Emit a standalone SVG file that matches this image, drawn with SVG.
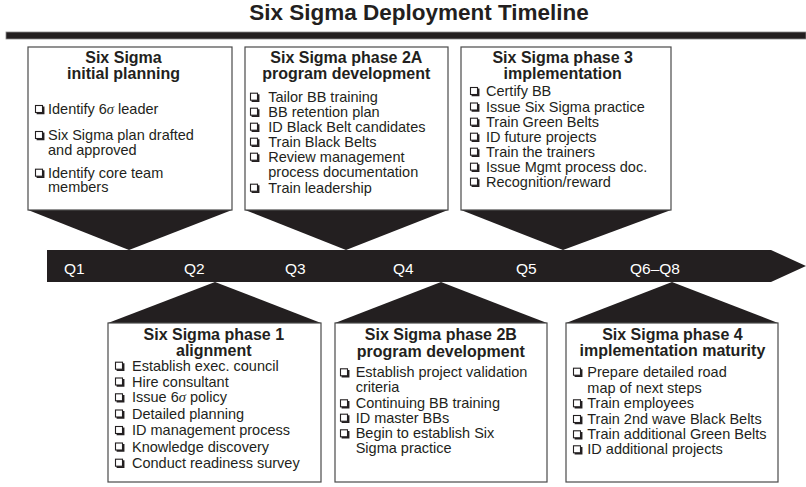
<svg xmlns="http://www.w3.org/2000/svg" xmlns:xlink="http://www.w3.org/1999/xlink" width="806" height="487" viewBox="0 0 806 487">
<style>
.bg{fill:#ffffff}
.box{fill:#ffffff;stroke:#4a4a4a;stroke-width:1.2}
.dark{fill:#231f20}
.hd{font-family:"Liberation Sans",Arial,sans-serif;font-weight:bold;font-size:16px;fill:#231f20;text-anchor:middle}
.it{font-family:"Liberation Sans",Arial,sans-serif;font-size:14.5px;fill:#231f20}
.q{font-family:"Liberation Sans",Arial,sans-serif;font-size:15.5px;fill:#ffffff}
.title{font-family:"Liberation Sans",Arial,sans-serif;font-weight:bold;font-size:22.5px;fill:#231f20;text-anchor:middle}
.sg{font-family:"Liberation Serif","Times New Roman",serif;font-style:italic}
</style>
<defs>
<g id="cb">
<rect x="0.5" y="-8.5" width="7" height="7" fill="#ffffff" stroke="#231f20" stroke-width="1.1"/>
<path d="M1.6 -0.6 H8.6 V-7.4" fill="none" stroke="#231f20" stroke-width="1.7"/>
</g>
</defs>
<rect class="bg" x="0" y="0" width="806" height="487"/>
<text class="title" x="419" y="20">Six Sigma Deployment Timeline</text>
<rect class="dark" x="6" y="32" width="800" height="7" stroke="#8a8a8a" stroke-width="0.8"/>

<g id="timeline">
<path class="dark" d="M47 250 H771 L806 266 L771 282 H47 Z"/>
<text class="q" x="64" y="274">Q1</text>
<text class="q" x="184" y="274">Q2</text>
<text class="q" x="285" y="274">Q3</text>
<text class="q" x="393" y="274">Q4</text>
<text class="q" x="516" y="274">Q5</text>
<text class="q" x="630" y="274">Q6–Q8</text>
</g>

<g id="connectors">
<path class="dark" d="M28 210 H232 L129 250 Z"/>
<path class="dark" d="M245 210 H448 L346 250 Z"/>
<path class="dark" d="M461 210 H671 L563 250 Z"/>
<path class="dark" d="M108 323 H321 L215 282 Z"/>
<path class="dark" d="M335 323 H547 L441 282 Z"/>
<path class="dark" d="M566 323 H778 L672 282 Z"/>
</g>

<g id="initial-planning">
<rect class="box" x="28" y="47" width="204" height="163"/>
<text class="hd" x="123.5" y="62.7">Six Sigma</text>
<text class="hd" x="123.5" y="79.3">initial planning</text>
<use xlink:href="#cb" x="35" y="114"/>
<text class="it" x="48" y="114">Identify 6<tspan class="sg">σ</tspan> leader</text>
<use xlink:href="#cb" x="35" y="140"/>
<text class="it" x="48" y="140">Six Sigma plan drafted</text>
<text class="it" x="48" y="154.5">and approved</text>
<use xlink:href="#cb" x="35" y="177.7"/>
<text class="it" x="48" y="177.7">Identify core team</text>
<text class="it" x="48" y="192.3">members</text>
</g>

<g id="phase-2a">
<rect class="box" x="245" y="47" width="203" height="163"/>
<text class="hd" x="346.3" y="63.3">Six Sigma phase 2A</text>
<text class="hd" x="346.3" y="79.3">program development</text>
<use xlink:href="#cb" x="250" y="101.7"/>
<text class="it" x="268.3" y="101.7">Tailor BB training</text>
<use xlink:href="#cb" x="250" y="116.7"/>
<text class="it" x="268.3" y="116.7">BB retention plan</text>
<use xlink:href="#cb" x="250" y="131.7"/>
<text class="it" x="268.3" y="131.7">ID Black Belt candidates</text>
<use xlink:href="#cb" x="250" y="146.7"/>
<text class="it" x="268.3" y="146.7">Train Black Belts</text>
<use xlink:href="#cb" x="250" y="161.7"/>
<text class="it" x="268.3" y="161.7">Review management</text>
<text class="it" x="268.3" y="177.2">process documentation</text>
<use xlink:href="#cb" x="250" y="192.7"/>
<text class="it" x="268.3" y="192.7">Train leadership</text>
</g>

<g id="phase-3">
<rect class="box" x="461" y="47" width="210" height="163"/>
<text class="hd" x="562.7" y="62.7">Six Sigma phase 3</text>
<text class="hd" x="562.7" y="79.3">implementation</text>
<use xlink:href="#cb" x="470" y="96"/>
<text class="it" x="486" y="96">Certify BB</text>
<use xlink:href="#cb" x="470" y="111.5"/>
<text class="it" x="486" y="111.5">Issue Six Sigma practice</text>
<use xlink:href="#cb" x="470" y="126.7"/>
<text class="it" x="486" y="126.7">Train Green Belts</text>
<use xlink:href="#cb" x="470" y="141.7"/>
<text class="it" x="486" y="141.7">ID future projects</text>
<use xlink:href="#cb" x="470" y="156.7"/>
<text class="it" x="486" y="156.7">Train the trainers</text>
<use xlink:href="#cb" x="470" y="171.7"/>
<text class="it" x="486" y="171.7">Issue Mgmt process doc.</text>
<use xlink:href="#cb" x="470" y="186.7"/>
<text class="it" x="486" y="186.7">Recognition/reward</text>
</g>

<g id="phase-1">
<rect class="box" x="108" y="323" width="213" height="159"/>
<text class="hd" x="213.8" y="340">Six Sigma phase 1</text>
<text class="hd" x="213.8" y="355.5">alignment</text>
<use xlink:href="#cb" x="115" y="370.7"/>
<text class="it" x="132" y="370.7">Establish exec. council</text>
<use xlink:href="#cb" x="115" y="386.5"/>
<text class="it" x="132" y="386.5">Hire consultant</text>
<use xlink:href="#cb" x="115" y="402.3"/>
<text class="it" x="132" y="402.3">Issue 6<tspan class="sg">σ</tspan> policy</text>
<use xlink:href="#cb" x="115" y="418.5"/>
<text class="it" x="132" y="418.5">Detailed planning</text>
<use xlink:href="#cb" x="115" y="435"/>
<text class="it" x="132" y="435">ID management process</text>
<use xlink:href="#cb" x="115" y="451.5"/>
<text class="it" x="132" y="451.5">Knowledge discovery</text>
<use xlink:href="#cb" x="115" y="467.7"/>
<text class="it" x="132" y="467.7">Conduct readiness survey</text>
</g>

<g id="phase-2b">
<rect class="box" x="335" y="323" width="212" height="159"/>
<text class="hd" x="440.8" y="340">Six Sigma phase 2B</text>
<text class="hd" x="440.8" y="356.7">program development</text>
<use xlink:href="#cb" x="340" y="377.3"/>
<text class="it" x="355.7" y="377.3">Establish project validation</text>
<text class="it" x="355.7" y="391.7">criteria</text>
<use xlink:href="#cb" x="340" y="408.3"/>
<text class="it" x="355.7" y="408.3">Continuing BB training</text>
<use xlink:href="#cb" x="340" y="422.7"/>
<text class="it" x="355.7" y="422.7">ID master BBs</text>
<use xlink:href="#cb" x="340" y="438.3"/>
<text class="it" x="355.7" y="438.3">Begin to establish Six</text>
<text class="it" x="355.7" y="453.3">Sigma practice</text>
</g>

<g id="phase-4">
<rect class="box" x="566" y="323" width="212" height="159"/>
<text class="hd" x="672.4" y="340">Six Sigma phase 4</text>
<text class="hd" x="672.4" y="356">implementation maturity</text>
<use xlink:href="#cb" x="573" y="376.7"/>
<text class="it" x="587.3" y="376.7">Prepare detailed road</text>
<text class="it" x="587.3" y="392.7">map of next steps</text>
<use xlink:href="#cb" x="573" y="408.3"/>
<text class="it" x="587.3" y="408.3">Train employees</text>
<use xlink:href="#cb" x="573" y="424"/>
<text class="it" x="587.3" y="424">Train 2nd wave Black Belts</text>
<use xlink:href="#cb" x="573" y="439.3"/>
<text class="it" x="587.3" y="439.3">Train additional Green Belts</text>
<use xlink:href="#cb" x="573" y="454.3"/>
<text class="it" x="587.3" y="454.3">ID additional projects</text>
</g>
</svg>
